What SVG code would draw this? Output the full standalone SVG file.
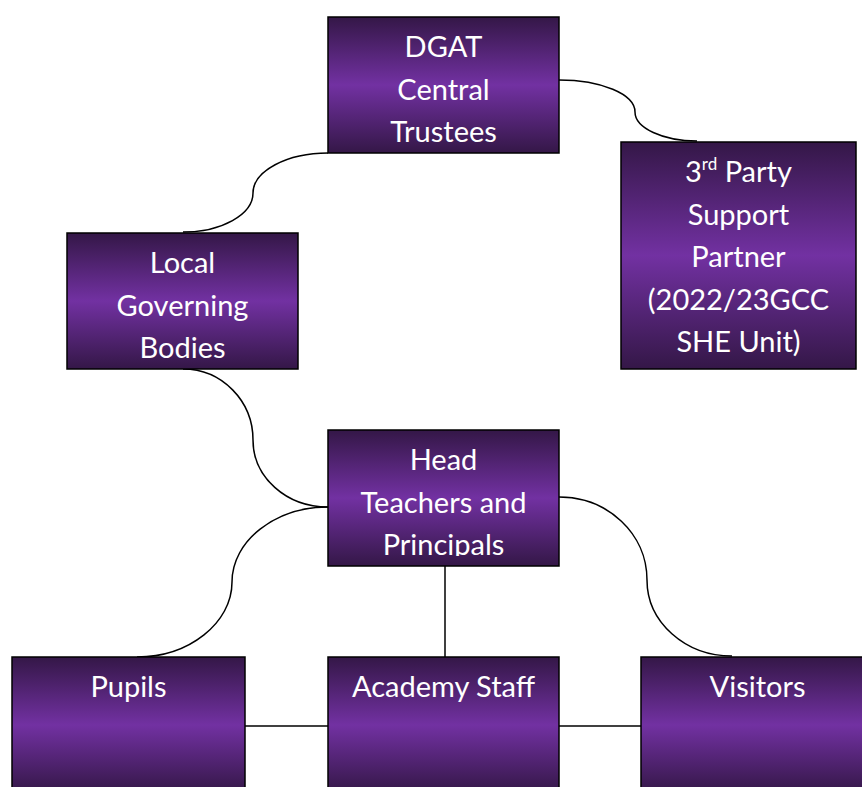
<svg xmlns="http://www.w3.org/2000/svg" width="862" height="787" viewBox="0 0 862 787">
<defs>
<linearGradient id="g" x1="0" y1="0" x2="0" y2="1">
<stop offset="0" stop-color="#341747"/>
<stop offset="0.5" stop-color="#7231a2"/>
<stop offset="1" stop-color="#341747"/>
</linearGradient>
<clipPath id="clipHead"><rect x="328" y="430" width="231" height="126"/></clipPath>
</defs>
<style>
.box{fill:url(#g);stroke:#000;stroke-width:1.5}
.t{font-family:Lato,"Liberation Sans",sans-serif;font-size:29px;fill:#fff;text-anchor:middle}
.c{fill:none;stroke:#000;stroke-width:1.5}
</style>
<rect width="862" height="787" fill="#fff"/>
<g id="connectors">
<path class="c" d="M328,153 C287,153 253,171 253,193 C253,214.5 221.6,232 183,232"/>
<path class="c" d="M559,80 C601,80 635,94 635,112 C635,128 663,141 697,141"/>
<path class="c" d="M183,369 C222,369 253,401 253,440 C253,477 286,507 328,507"/>
<path class="c" d="M328,507 C275,507 232,541 232,582 C232,623 189,657 137,657"/>
<path class="c" d="M559,497 C608,497 647,534 647,580 C647,622 685,656 732,656"/>
<path class="c" d="M445,566 V657"/>
<path class="c" d="M245,726 H328"/>
<path class="c" d="M559,726 H641"/>
</g>
<g id="dgat">
<rect class="box" x="328" y="17" width="231" height="136"/>
<text class="t" x="443.5" y="57">DGAT</text>
<text class="t" x="443.5" y="99.5">Central</text>
<text class="t" x="443.5" y="142">Trustees</text>
</g>
<g id="third-party">
<rect class="box" x="621" y="142" width="235" height="227"/>
<text class="t" x="738.5" y="182">3<tspan font-size="17" dy="-12">rd</tspan><tspan dy="12"> Party</tspan></text>
<text class="t" x="738.5" y="224.5">Support</text>
<text class="t" x="738.5" y="267">Partner</text>
<text class="t" x="738.5" y="309.5">(2022/23GCC</text>
<text class="t" x="738.5" y="352">SHE Unit)</text>
</g>
<g id="local-governing-bodies">
<rect class="box" x="67" y="233" width="231" height="136"/>
<text class="t" x="182.5" y="273">Local</text>
<text class="t" x="182.5" y="315.5">Governing</text>
<text class="t" x="182.5" y="358">Bodies</text>
</g>
<g id="head-teachers">
<rect class="box" x="328" y="430" width="231" height="136"/>
<g clip-path="url(#clipHead)">
<text class="t" x="443.5" y="470">Head</text>
<text class="t" x="443.5" y="512.5">Teachers and</text>
<text class="t" x="443.5" y="555">Principals</text>
</g>
</g>
<g id="pupils">
<rect class="box" x="12" y="657" width="233" height="136"/>
<text class="t" x="128.5" y="697">Pupils</text>
</g>
<g id="academy-staff">
<rect class="box" x="328" y="657" width="231" height="136"/>
<text class="t" x="443.5" y="697">Academy Staff</text>
</g>
<g id="visitors">
<rect class="box" x="641" y="657" width="233" height="136"/>
<text class="t" x="757.5" y="697">Visitors</text>
</g>
</svg>
